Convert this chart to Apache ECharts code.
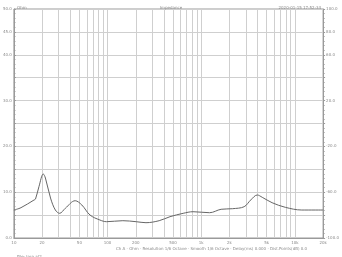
<!DOCTYPE html>
<html><head><meta charset="utf-8">
<script src="https://cdn.jsdelivr.net/npm/echarts@6/dist/echarts.min.js"></script>
<style>html,body{margin:0;padding:0;background:#fff}#c{width:342px;height:257px}</style>
</head><body><div id="c"></div>
<script>
const freqHz = [10, 11.9, 16.4, 17, 18.5, 20.6, 21.7, 24.6, 27.7, 30.8, 35.4, 45.1, 53.1, 64.9, 82.8, 97.3, 145.5, 201.8, 257, 355.5, 464, 641, 817, 1227, 1630, 2160, 2870, 3375, 3963, 4476, 5705, 7900, 11830, 20000];
const impedanceOhm = [6.11, 6.62, 8.3, 8.5, 11.2, 13.97, 13.1, 8.73, 6.11, 5.39, 6.49, 8.14, 7.21, 5.02, 3.93, 3.56, 3.78, 3.56, 3.34, 3.78, 4.65, 5.39, 5.74, 5.52, 6.27, 6.4, 6.83, 8.3, 9.39, 8.89, 7.71, 6.7, 6.11, 6.11];
const xTickLabels = [10, 20, 50, 100, 200, 500, 1000, 2000, 5000, 10000, 20000];
const leftLabels = [0, 10, 20, 30, 40, 45, 50];
const rightLabels = [-100, -60, -20, 20, 60, 80, 100];
const gridFreqs = [];
[10, 100, 1000, 10000].forEach(d => { for (let m = 1; m <= 9; m++) { const v = d * m; if (v <= 20000) gridFreqs.push(v); } });
gridFreqs.push(20000);

const fmtHz = v => v >= 1000 ? (v / 1000) + 'k' : String(v);
const txt = '#8a8a8a';
const chart = echarts.init(document.getElementById('c'), null, {renderer: 'canvas'});
chart.setOption({
  animation: false,
  backgroundColor: '#fff',
  textStyle: {fontFamily: 'DejaVu Sans'},
  title: [
    {text: 'Ohm', left: 12, top: 1, textStyle: {fontSize: 4, color: txt, fontWeight: 'normal'}},
    {text: 'Impedance', left: 'center', top: 1, textStyle: {fontSize: 4, color: txt, fontWeight: 'normal'}},
    {text: '2020-01-15 17:52:34', right: 16, top: 1, textStyle: {fontSize: 4, color: txt, fontWeight: 'normal'}},
    {text: 'Ch A · Ohm · Resolution 1/6 Octave · Smooth 1/6 Octave · Delay(ms) 0.000 · Dist.Points(dB) 0.0', left: 111, top: 242, textStyle: {fontSize: 4, color: txt, fontWeight: 'normal'}},
    {text: 'File: Imp.at2', left: 12, top: 250, textStyle: {fontSize: 4, color: txt, fontWeight: 'normal'}}
  ],
  grid: {left: 13, right: 16, top: 9, bottom: 19, show: true, borderColor: '#9a9a9a', borderWidth: 1, backgroundColor: 'transparent'},
  xAxis: {
    type: 'log', logBase: 10, min: 10, max: 20000,
    axisLine: {lineStyle: {color: '#9a9a9a'}},
    axisTick: {show: false, customValues: gridFreqs},
    splitLine: {show: true, lineStyle: {color: '#cfcfcf', width: 1}},
    axisLabel: {customValues: xTickLabels, formatter: fmtHz, fontSize: 4, color: txt, margin: 3}
  },
  yAxis: [
    {
      type: 'value', min: 0, max: 50, interval: 5, position: 'left',
      axisLine: {show: true, lineStyle: {color: '#9a9a9a'}},
      axisTick: {show: true, inside: true, length: 2, lineStyle: {color: '#9a9a9a'}},
      minorTick: {show: true, splitNumber: 5, length: 1.5, lineStyle: {color: '#9a9a9a'}},
      splitLine: {show: true, lineStyle: {color: '#cfcfcf'}},
      axisLabel: {fontSize: 4, color: txt, margin: 2, formatter: v => leftLabels.includes(v) ? v.toFixed(1) : ''}
    },
    {
      type: 'value', min: -100, max: 100, interval: 20, position: 'right',
      axisLine: {show: true, lineStyle: {color: '#9a9a9a'}},
      axisTick: {show: true, inside: false, length: 2, lineStyle: {color: '#9a9a9a'}},
      minorTick: {show: true, splitNumber: 5, length: 1.5, lineStyle: {color: '#9a9a9a'}},
      splitLine: {show: false},
      axisLabel: {fontSize: 4, color: txt, margin: 3, formatter: v => rightLabels.includes(v) ? v.toFixed(1) : ''}
    }
  ],
  series: [{
    type: 'line', smooth: 0.35, symbol: 'none', yAxisIndex: 0,
    lineStyle: {color: '#666', width: 1},
    data: freqHz.map((f, i) => [f, impedanceOhm[i]])
  }]
});
</script></body></html>
